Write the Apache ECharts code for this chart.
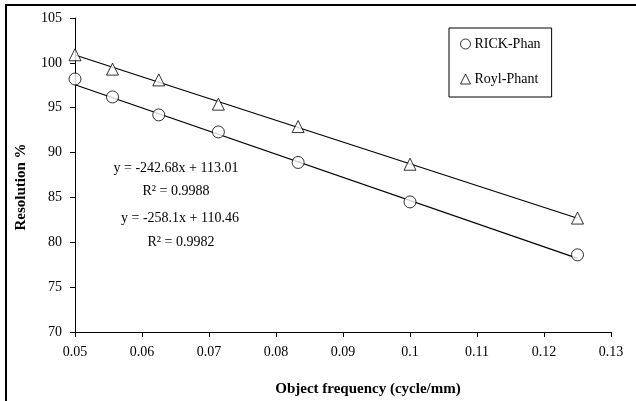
<!DOCTYPE html>
<html><head><meta charset="utf-8">
<script src="https://cdn.jsdelivr.net/npm/echarts@6/dist/echarts.min.js"></script>
<style>html,body{margin:0;padding:0;background:#fff}#c{width:636px;height:401px}</style>
</head><body><div id="c"></div>
<script>
const xFreq = [0.05, 0.0556, 0.0625, 0.0714, 0.0833, 0.1, 0.125];
const rickPhan = [98.2, 96.2, 94.2, 92.3, 88.9, 84.5, 78.6];
const roylPhant = [100.9, 99.3, 98.1, 95.4, 92.9, 88.7, 82.7];
const trendX = [0.05, 0.125];
const rickTrend = [97.56, 78.20];
const roylTrend = [100.88, 82.68];
const seriesNames = ['RICK-Phan', 'Royl-Phant'];
const eqTexts = ['y = -242.68x + 113.01', 'R² = 0.9988', 'y = -258.1x + 110.46', 'R² = 0.9982'];
const xTitle = 'Object frequency (cycle/mm)';
const yTitle = 'Resolution %';

const F = '"Liberation Serif", "Times New Roman", serif';
const zip = (a, b) => a.map((v, i) => [v, b[i]]);
const chart = echarts.init(document.getElementById('c'), null, {renderer: 'canvas'});
const txt = (s, x, y, font, rot) => ({type: 'text', x: x, y: y, rotation: rot || 0,
  style: {text: s, font: font, fill: '#000', textAlign: 'center', textVerticalAlign: 'middle'}});
chart.setOption({
  animation: false,
  backgroundColor: '#fff',
  grid: {left: 75, right: 25, top: 18, bottom: 69},
  xAxis: {
    type: 'value', min: 0.05, max: 0.13, interval: 0.01,
    axisLine: {lineStyle: {color: '#000', width: 1}},
    axisTick: {length: 5, lineStyle: {color: '#000'}},
    axisLabel: {fontFamily: F, fontSize: 14, color: '#000', margin: 13,
      formatter: v => String(+v.toFixed(2))},
    splitLine: {show: false}
  },
  yAxis: {
    type: 'value', min: 70, max: 105, interval: 5,
    axisLine: {show: true, lineStyle: {color: '#000', width: 1}},
    axisTick: {show: true, length: 5, lineStyle: {color: '#000'}},
    axisLabel: {fontFamily: F, fontSize: 14, color: '#000', margin: 13},
    splitLine: {show: false}
  },
  legend: {
    data: seriesNames, orient: 'vertical', left: 449, top: 28,
    borderColor: '#000', borderWidth: 1, padding: [9, 11, 11, 11],
    itemGap: 21, itemWidth: 10, itemHeight: 10,
    itemStyle: {borderWidth: 1},
    textStyle: {fontFamily: F, fontSize: 14, color: '#000', padding: [0, 0, 0, -1]}
  },
  graphic: [
    {type: 'rect', shape: {x: 6, y: 5, width: 640, height: 410}, style: {fill: 'none', stroke: '#000', lineWidth: 2}, silent: true},
    txt(eqTexts[0], 176, 168, '14px ' + F),
    txt(eqTexts[1], 176, 191, '14px ' + F),
    txt(eqTexts[2], 180, 218, '14px ' + F),
    txt(eqTexts[3], 181, 242, '14px ' + F),
    txt(xTitle, 368, 389, 'bold 15px ' + F),
    txt(yTitle, 21, 187, 'bold 15px ' + F, Math.PI / 2)
  ],
  series: [
    {name: seriesNames[0], type: 'scatter', data: zip(xFreq, rickPhan), symbol: 'circle', symbolSize: 12, z: 5,
     itemStyle: {color: '#fff', borderColor: '#000', borderWidth: 1}},
    {name: seriesNames[1], type: 'scatter', data: zip(xFreq, roylPhant), symbol: 'triangle', symbolSize: 12, z: 5,
     itemStyle: {color: '#fff', borderColor: '#000', borderWidth: 1}},
    {name: 'rickTrend', type: 'line', data: zip(trendX, rickTrend), symbol: 'none', z: 3,
     lineStyle: {color: '#000', width: 1.2}},
    {name: 'roylTrend', type: 'line', data: zip(trendX, roylTrend), symbol: 'none', z: 3,
     lineStyle: {color: '#000', width: 1.2}}
  ]
});
</script></body></html>
